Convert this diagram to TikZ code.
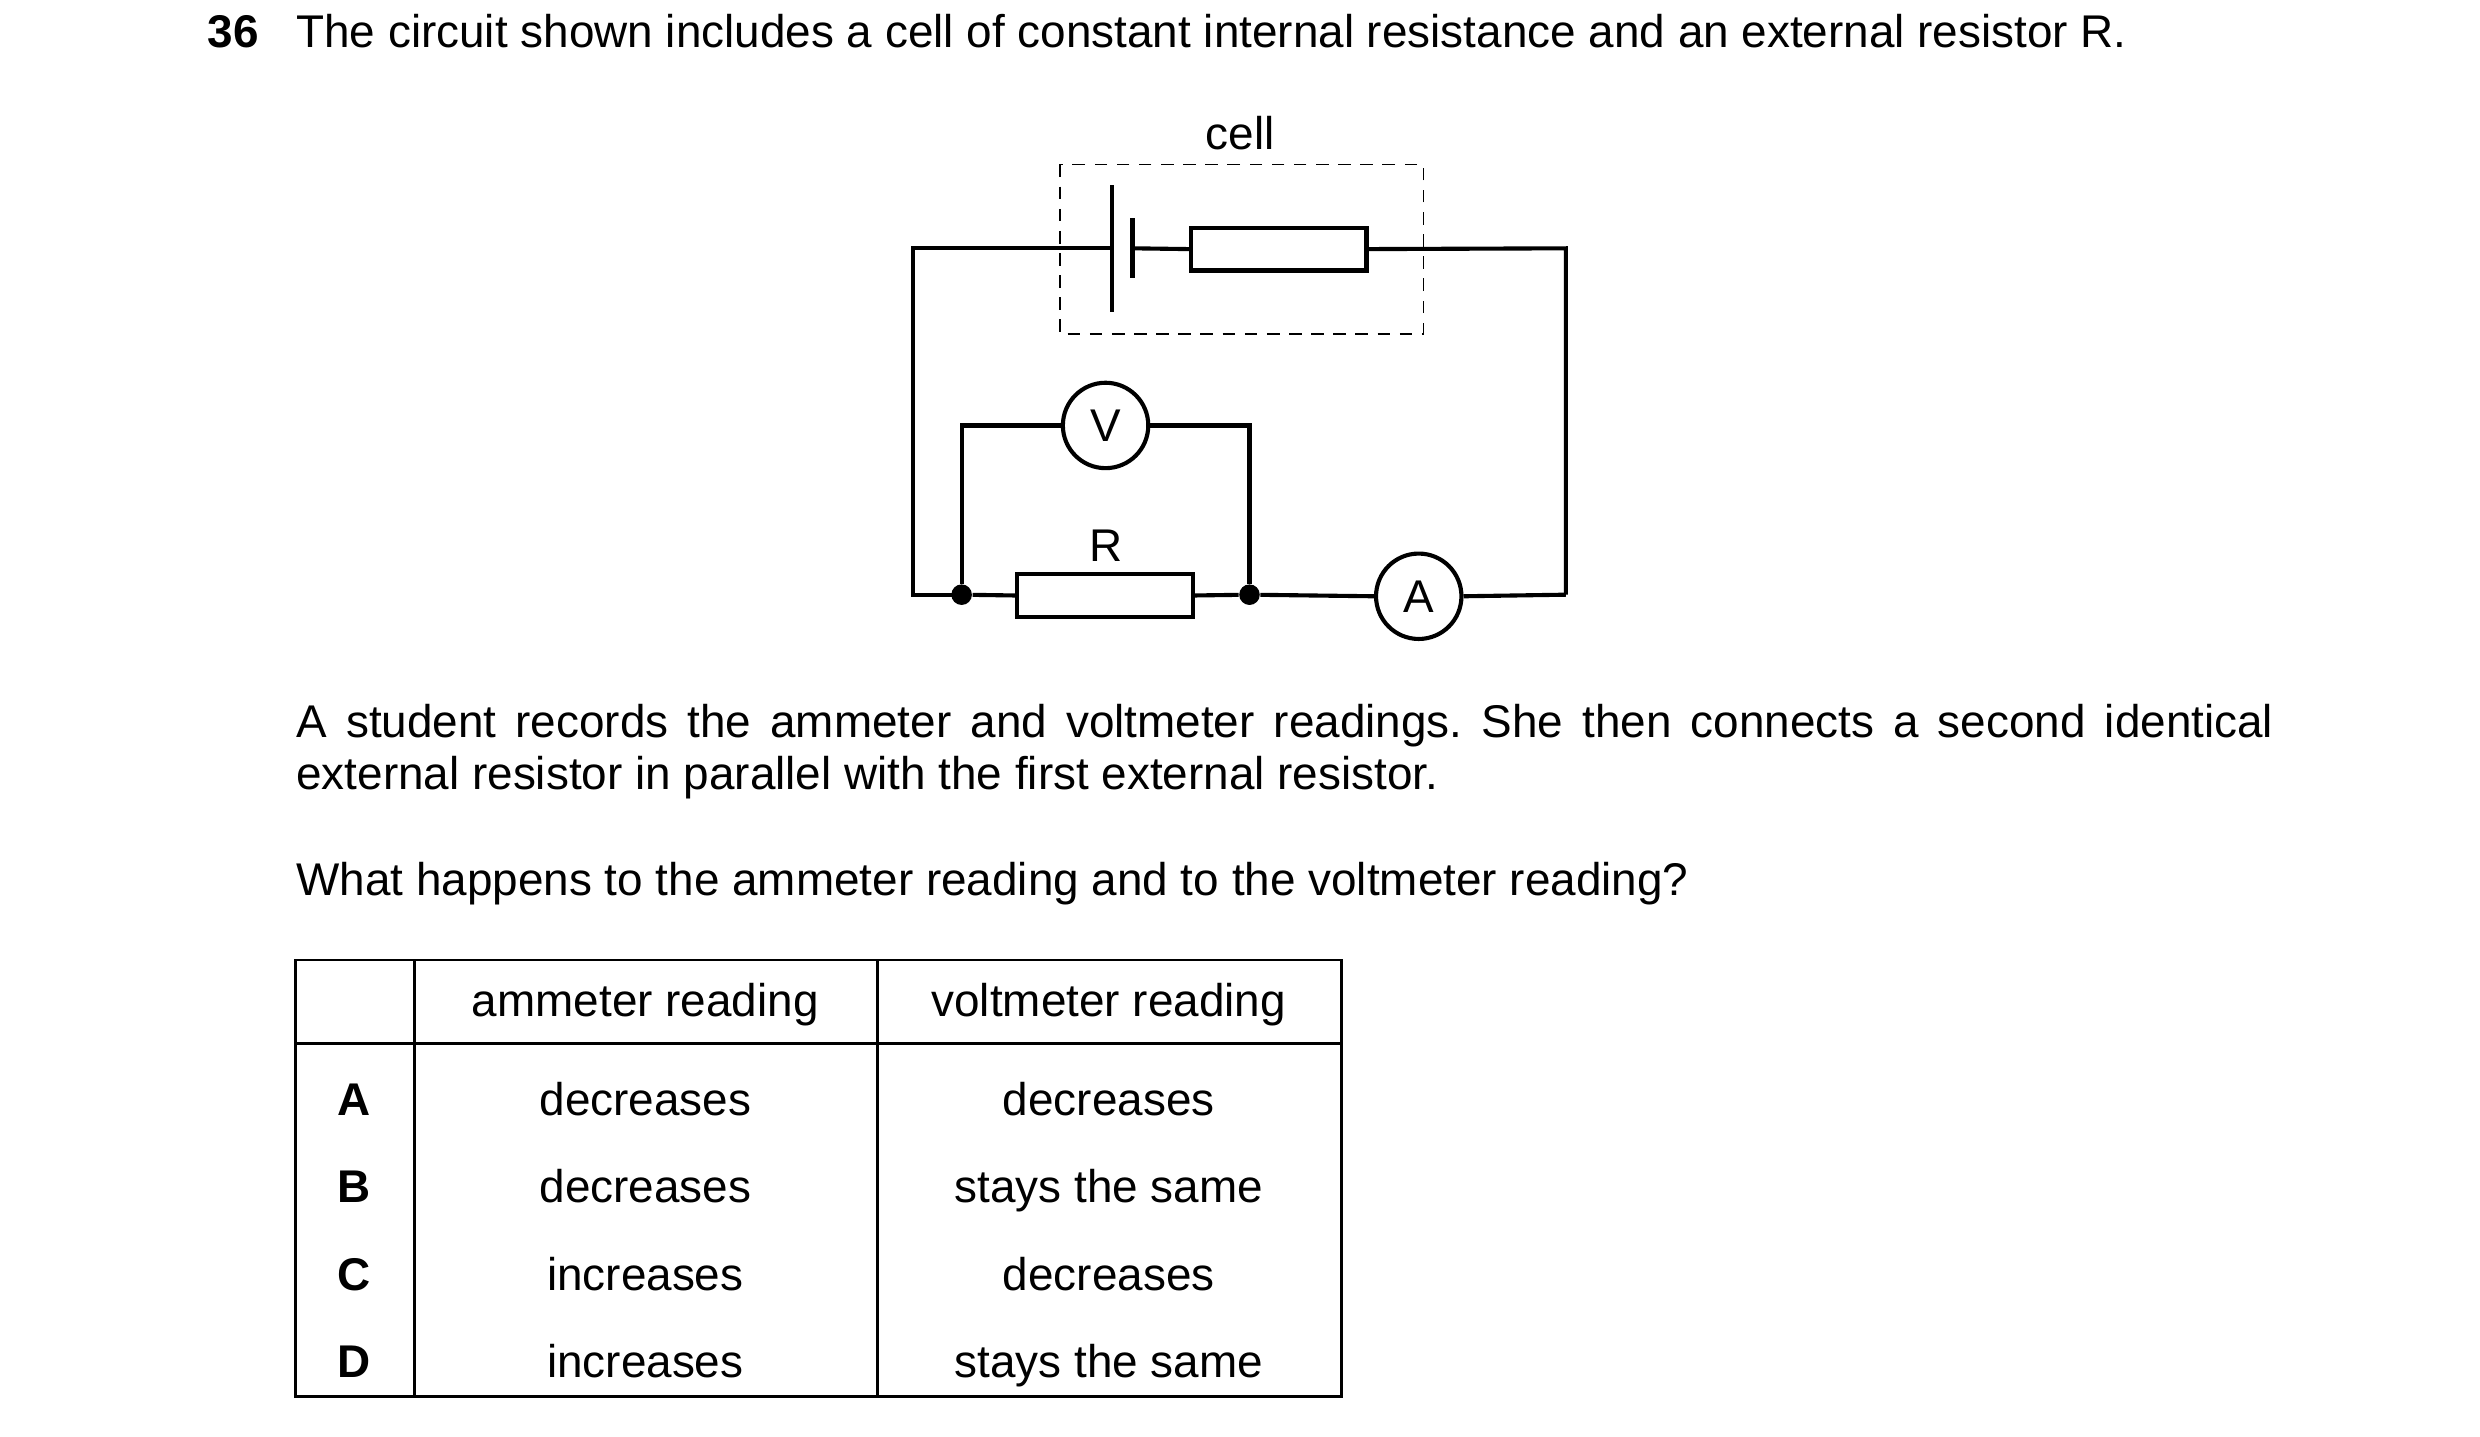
\documentclass[tikz,border=0pt]{standalone}
\usepackage{fontspec}
\setmainfont{Liberation Sans}
\frenchspacing
\begin{document}
\begin{tikzpicture}[x=0.5pt,y=-0.5pt,
  w/.style={line width=1.3pt},
  t/.style={font=\fontsize{14.5}{16.5}\selectfont, inner sep=0pt},
  dot/.style={circle,fill,inner sep=0pt,minimum size=6.5pt},
  meter/.style={circle,draw,line width=1.3pt,minimum size=27pt,inner sep=0pt,font=\fontsize{14.5}{16.5}\selectfont}]
\useasboundingbox (0,0) rectangle (1568,908);
\node[t,anchor=base west,font=\fontsize{14.5}{16.5}\selectfont\bfseries] (num) at (131,30) {36};
\node[t,anchor=base west] (q) at (187,30) {The circuit shown includes a cell of constant internal resistance and an external resistor R.};
% cell box
\draw[dashed,line width=0.6pt,dash pattern=on 4pt off 3pt] (670,104) rectangle (900,211);
\node[t] (cell) at (784,84) {cell};
\coordinate (tl) at (577,157); \coordinate (tr) at (990,157);
\coordinate (bl) at (577,376); \coordinate (br) at (990,376);
\coordinate (p1) at (703,157); \coordinate (p2) at (716,157);
\draw[w] (703,117) -- (703,197);
\draw[w] (716,138) -- (716,176);
\node[draw,w,minimum width=55.5pt,minimum height=13.5pt,inner sep=0pt] (ri) at (808.5,157.5) {};
\draw[w] (p1) -- (tl) -- (bl) -- (608,376);
\draw[w] (p2) -- (ri.west);
\draw[w] (ri.east) -- (tr) -- (br);
\node[dot] (j1) at (608,376) {};
\node[dot] (j2) at (790,376) {};
\node[draw,w,minimum width=55.5pt,minimum height=13.5pt,inner sep=0pt] (R) at (698.5,376.5) {};
\node[t] (Rl) at (699,345) {R};
\node[meter] (A) at (897,377) {A};
\node[meter] (V) at (699,269) {V};
\draw[w] (j1) -- (R.west); \draw[w] (R.east) -- (j2) -- (A.west); \draw[w] (A.east) -- (br);
\draw[w] (j1) -- (608,269) -- (V.west); \draw[w] (V.east) -- (790,269) -- (j2);
% paragraph
\node[t,anchor=base west,text width=625pt,align=justify] (par) at (187,466) {A student records the ammeter and voltmeter readings. She then connects a second identical\linebreak external resistor in parallel with the first external resistor.};
\node[t,anchor=base west] (ask) at (187,566) {What happens to the ammeter reading and to the voltmeter reading?};
% table
\draw[line width=0.9pt] (187,607) rectangle (848,883);
\draw[line width=0.9pt] (187,660) -- (848,660);
\draw[line width=0.9pt] (262,607) -- (262,883);
\draw[line width=0.9pt] (555,607) -- (555,883);
\node[t,anchor=base] (h1) at (408,643) {ammeter reading};
\node[t,anchor=base] (h2) at (701,643) {voltmeter reading};
\foreach \y/\l/\a/\v in {705/A/decreases/decreases,760/B/decreases/stays the same,816/C/increases/decreases,871/D/increases/stays the same}{
  \node[t,anchor=base,font=\fontsize{14.5}{16.5}\selectfont\bfseries] at (224,\y) {\l};
  \node[t,anchor=base] at (408,\y) {\a};
  \node[t,anchor=base] at (701,\y) {\v};
}
\end{tikzpicture}
\end{document}
